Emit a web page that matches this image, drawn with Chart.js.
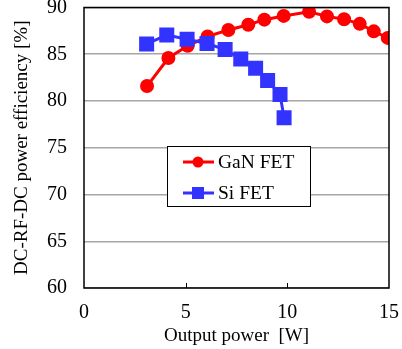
<!DOCTYPE html>
<html>
<head>
<meta charset="utf-8">
<script src="https://cdn.jsdelivr.net/npm/chart.js@4"></script>
<style>
body{margin:0;background:#fff;}
#wrap{width:402px;height:349px;position:relative;overflow:hidden;}
#inner{position:absolute;left:0;top:-4px;width:402px;height:353px;}
</style>
</head>
<body>
<div id="wrap"><div id="inner"><canvas id="effChart"></canvas></div></div>
<script>
let ganPower=[3.1,4.15,5.1,6.08,7.1,8.08,8.87,9.82,11.07,11.95,12.79,13.56,14.25,14.94];
let ganEff=[81.6,84.6,85.9,86.9,87.6,88.15,88.7,89.1,89.55,89.05,88.75,88.25,87.45,86.75];
let siPower=[3.08,4.07,5.07,6.05,6.94,7.71,8.44,9.03,9.64,9.84];
let siEff=[86.1,87.05,86.6,86.15,85.5,84.5,83.5,82.2,80.7,78.2];
let xTicks=[0,5,10,15];
let yTicks=[60,65,70,75,80,85,90];
let seriesNames=["GaN FET","Si FET"];

function pts(xs,ys){
return xs.map((x,i)=>({x:x,y:ys[i]}));
}

let serif="'Liberation Serif','Times New Roman',serif";

let frame={
id:"frame",
afterDraw(chart){
let c=chart.ctx,a=chart.chartArea,xs=chart.scales.x;
c.save();
c.strokeStyle="#000";
c.lineWidth=1.5;
c.strokeRect(a.left,a.top,a.right-a.left,a.bottom-a.top);
c.lineWidth=1;
[5,10].forEach(v=>{
let px=Math.round(xs.getPixelForValue(v))+0.5;
c.beginPath();c.moveTo(px,a.bottom);c.lineTo(px,a.bottom-5);c.stroke();
});
// legend box (canvas is shifted up 4px)
let lx=167,ly=150,lw=143,lh=60;
c.fillStyle="#fff";
c.fillRect(lx,ly,lw,lh);
c.strokeStyle="#000";
c.lineWidth=1;
c.strokeRect(lx+0.5,ly+0.5,lw,lh);
let rows=[{col:"#ff0000",y:166,shape:"circle"},{col:"#3333ff",y:197,shape:"rect"}];
rows.forEach((r,i)=>{
c.strokeStyle=r.col;c.fillStyle=r.col;c.lineWidth=3;
c.beginPath();c.moveTo(183,r.y);c.lineTo(214,r.y);c.stroke();
if(r.shape==="circle"){c.beginPath();c.arc(198,r.y,5.5,0,Math.PI*2);c.fill();}
else{c.fillRect(192,r.y-6,12,12);}
c.fillStyle="#000";
c.font="19.5px "+serif;
c.textBaseline="middle";
c.fillText(seriesNames[i],218,r.y+1);
});
c.restore();
}
};

new Chart(document.getElementById("effChart"),{
type:"scatter",
data:{
datasets:[
{label:seriesNames[1],data:pts(siPower,siEff),showLine:true,borderColor:"#3333ff",backgroundColor:"#3333ff",borderWidth:3,pointStyle:"rect",pointRadius:8.5,pointHoverRadius:8.5,order:0},
{label:seriesNames[0],data:pts(ganPower,ganEff),showLine:true,borderColor:"#ff0000",backgroundColor:"#ff0000",borderWidth:3,pointStyle:"circle",pointRadius:5.5,pointHoverRadius:5.5,order:1}
]
},
options:{
responsive:true,
maintainAspectRatio:false,
animation:false,
layout:{padding:{top:7,right:13,left:0,bottom:0}},
plugins:{legend:{display:false},tooltip:{enabled:false}},
scales:{
x:{
type:"linear",min:0,max:15,
afterBuildTicks(s){s.ticks=xTicks.map(v=>({value:v}));},
afterFit(s){s.height=61;s.paddingLeft=0;s.paddingRight=0;},
grid:{display:false,drawTicks:false},
border:{display:false},
ticks:{color:"#000",font:{family:serif,size:20},padding:13,maxRotation:0},
title:{display:true,text:"Output power  [W]",color:"#000",font:{family:serif,size:19},padding:{top:0,bottom:2}}
},
y:{
min:60,max:90,
afterBuildTicks(s){s.ticks=yTicks.map(v=>({value:v}));},
afterFit(s){s.width=84;s.paddingTop=0;s.paddingBottom=0;},
grid:{color:"#a6a6a6",lineWidth:1.5,drawTicks:false},
border:{display:false},
ticks:{color:"#000",font:{family:serif,size:20},padding:17},
title:{display:true,text:"DC-RF-DC power efficiency [%]",color:"#000",font:{family:serif,size:19},padding:{top:11,bottom:0}}
}
}
},
plugins:[frame]
});
</script>
</body>
</html>
